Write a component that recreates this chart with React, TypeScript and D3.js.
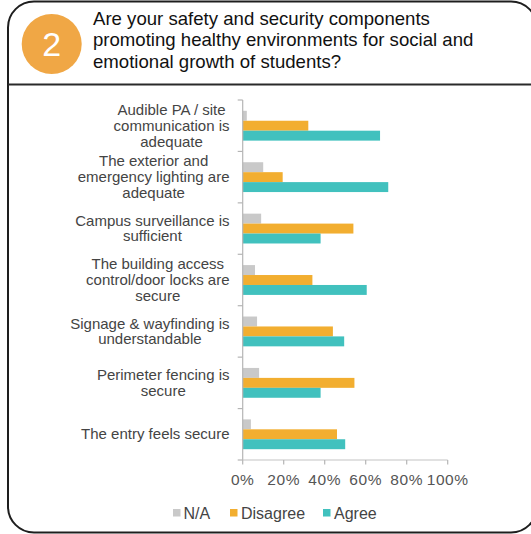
import React from "react";
import * as d3 from "d3";

const categories = [
  "Audible PA / site communication is adequate",
  "The exterior and emergency lighting are adequate",
  "Campus surveillance is sufficient",
  "The building access control/door locks are secure",
  "Signage & wayfinding is understandable",
  "Perimeter fencing is secure",
  "The entry feels secure",
];
const categoryLines = [
  ["Audible PA / site", "communication is", "adequate"],
  ["The exterior and", "emergency lighting are", "adequate"],
  ["Campus surveillance is", "sufficient"],
  ["The building access", "control/door locks are", "secure"],
  ["Signage & wayfinding is", "understandable"],
  ["Perimeter fencing is", "secure"],
  ["The entry feels secure"],
];
const seriesNames = ["N/A", "Disagree", "Agree"];
const naValues = [2, 10, 9, 6, 7, 8, 4];
const disagreeValues = [32, 19.5, 54, 34, 44, 54.5, 46];
const agreeValues = [67, 71, 38, 60.5, 49.5, 38, 50];
const seriesColors = ["#C9C9C9", "#F2AE30", "#41C1BE"];
const xTicks = [0, 20, 40, 60, 80, 100];
const titleLines = [
  "Are your safety and security components",
  "promoting healthy environments for social and",
  "emotional growth of students?",
];

const font = "'Liberation Sans', Arial, sans-serif";
const labelSize = 15;

function measure(text: string, size: number): number {
  if (typeof document === "undefined") return text.length * size * 0.5;
  const c = document.createElement("canvas");
  const ctx = c.getContext("2d");
  if (!ctx) return text.length * size * 0.5;
  ctx.font = `${size}px 'Liberation Sans', Arial, sans-serif`;
  return ctx.measureText(text).width;
}

export default function App() {
  const W = 531;
  const H = 534;
  const x = d3.scaleLinear().domain([0, 100]).range([242.7, 447.7]);
  const y = d3.scaleBand<string>().domain(categories).range([100, 460]).padding(0);
  const inner = d3
    .scaleBand<string>()
    .domain(seriesNames)
    .range([y.bandwidth() * 0.21, y.bandwidth() * 0.79])
    .padding(0);
  const values = [naValues, disagreeValues, agreeValues];
  const boundaries = [...categories.map((c) => y(c) as number), 460];
  const labelRight = 229.5;

  return (
    <div style={{ position: "absolute", left: 0, top: 0 }}>
      <svg width={W} height={H} style={{ display: "block" }}>
        <rect x={0} y={0} width={W} height={H} fill="#fff" />
        <rect x={8} y={1.5} width={529} height={531} rx={26} ry={26} fill="none" stroke="#1e1e1e" strokeWidth={2} />
        <line x1={8} x2={W} y1={84.5} y2={84.5} stroke="#2a2a2a" strokeWidth={2} />
        <circle cx={51.7} cy={44} r={30} fill="#F0A745" />
        <text x={51.7} y={56} textAnchor="middle" fill="#fff" fontFamily={font} fontSize={34}>2</text>
        {titleLines.map((t, i) => (
          <text key={i} x={93} y={25 + i * 21.3} fill="#111" fontFamily={font} fontSize={18.6}>{t}</text>
        ))}

        {/* bars */}
        {categories.map((c, ci) => (
          <g key={c} transform={`translate(0,${y(c)})`}>
            {seriesNames.map((s, si) => (
              <rect
                key={s}
                x={x(0)}
                y={inner(s) as number}
                width={x(values[si][ci]) - x(0)}
                height={inner.bandwidth()}
                fill={seriesColors[si]}
              />
            ))}
          </g>
        ))}

        {/* y axis */}
        <line x1={x(0)} x2={x(0)} y1={100} y2={460} stroke="#b5b5b5" strokeWidth={1.2} />
        {boundaries.map((b, i) => (
          <line key={i} x1={x(0) - 5} x2={x(0)} y1={b} y2={b} stroke="#b5b5b5" strokeWidth={1.2} />
        ))}
        {categories.map((c, ci) => {
          const lines = categoryLines[ci];
          const cy = (y(c) as number) + y.bandwidth() / 2;
          const lh = 15.8;
          const start = cy - ((lines.length - 1) * lh) / 2 + 5;
          const maxW = Math.max(...lines.map((l) => measure(l, labelSize)));
          const cx = labelRight - maxW / 2;
          return (
            <text key={c} textAnchor="middle" fill="#444" fontFamily={font} fontSize={labelSize}>
              {lines.map((l, li) => (
                <tspan key={li} x={cx} y={start + li * lh}>{l}</tspan>
              ))}
            </text>
          );
        })}

        {/* x axis */}
        <line x1={x(0)} x2={x(100)} y1={460} y2={460} stroke="#c4c4c4" strokeWidth={1.2} />
        {xTicks.map((t) => (
          <g key={t}>
            <line x1={x(t)} x2={x(t)} y1={460} y2={464.5} stroke="#b5b5b5" strokeWidth={1.2} />
            <text x={x(t)} y={485} textAnchor="middle" fill="#555" fontFamily={font} fontSize={15.5} letterSpacing={0.6}>{t}%</text>
          </g>
        ))}

        {/* legend */}
        {[
          { s: seriesNames[0], c: seriesColors[0], sx: 173, tx: 183.5 },
          { s: seriesNames[1], c: seriesColors[1], sx: 230, tx: 241 },
          { s: seriesNames[2], c: seriesColors[2], sx: 323, tx: 334 },
        ].map((l) => (
          <g key={l.s}>
            <rect x={l.sx} y={509} width={7.5} height={7.5} fill={l.c} />
            <text x={l.tx} y={519} fill="#444" fontFamily={font} fontSize={16}>{l.s}</text>
          </g>
        ))}
      </svg>
    </div>
  );
}
